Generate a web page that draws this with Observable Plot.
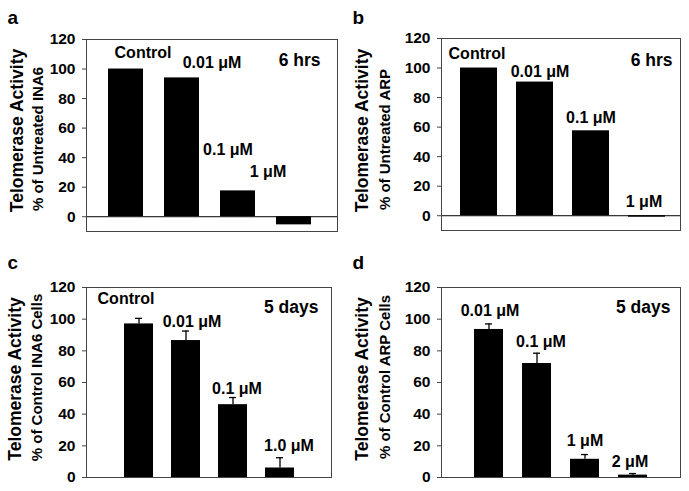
<!DOCTYPE html>
<html><head><meta charset="utf-8">
<script src="https://cdn.jsdelivr.net/npm/d3@7"></script>
<script src="https://cdn.jsdelivr.net/npm/@observablehq/plot@0.6"></script>
<style>
body{margin:0;background:#fff;}
#fig{position:relative;width:689px;height:491px;overflow:hidden;background:#fff;}
.panel{position:absolute;}
</style></head><body><div id="fig"></div>
<script>
// ---- data ----
const catsA = ["Control", "0.01 μM", "0.1 μM", "1 μM"];
const valsA = [100, 94, 17.5, -5.5];

const catsB = ["Control", "0.01 μM", "0.1 μM", "1 μM"];
const valsB = [100, 90.5, 57.5, -1];

const catsC = ["Control", "0.01 μM", "0.1 μM", "1.0 μM"];
const valsC = [97, 86.5, 46, 6];
const errsC = [3.5, 6, 4.5, 6.5];

const catsD = ["0.01 μM", "0.1 μM", "1 μM", "2 μM"];
const valsD = [93.5, 72, 11.5, 1.5];
const errsD = [3.5, 6.5, 3, 1];

const yTicks = [0, 20, 40, 60, 80, 100, 120];
const panelLetters = ["a", "b", "c", "d"];
const yTitle1 = "Telomerase Activity";
const yTitles2 = ["% of Untreated INA6", "% of Untreated ARP", "% of Control INA6 Cells", "% of Control ARP Cells"];
const timeLabels = ["6 hrs", "6 hrs", "5 days", "5 days"];

// ---- layout (positions / styles) ----
const FONT = "'Liberation Sans', Arial, Helvetica, sans-serif";
const layouts = [
  {cats: catsA, vals: valsA, errs: null, left: 0, top: 0, width: 345, height: 245,
   mt: 39, mb: 14, ml: 86, mr: 8, yDomain: [-10, 120], pi: 0.383, po: 0.405, align: 0.45, zero: true,
   labelY: [111, 104.5, 45, 30.7], labelDx: [17, 30, -10, -26],
   timeDx: -17, timeDy: 14, t1: [-69, -5], t2: [-48, 3.5]},
  {cats: catsB, vals: valsB, errs: null, left: 345, top: 0, width: 344, height: 245,
   mt: 38, mb: 15, ml: 96, mr: 9, yDomain: [-10, 120], pi: 0.345, po: 0.287, align: 0.55, zero: true,
   labelY: [109.6, 97.7, 66.3, 9.2], labelDx: [-2, 5, 0, -3],
   timeDx: -8, timeDy: 15, t1: [-79, -4], t2: [-56, 5]},
  {cats: catsC, vals: valsC, errs: errsC, left: 0, top: 245, width: 345, height: 246,
   mt: 42, mb: 14, ml: 86, mr: 14, yDomain: [0, 120], pi: 0.386, po: 0.761, align: 0.5, zero: false,
   labelY: [112.8, 98.1, 56, 20.2], labelDx: [-13, 6, 4, 9],
   timeDx: -13, timeDy: 13, t1: [-71, -3.5], t2: [-49, -5]},
  {cats: catsD, vals: valsD, errs: errsD, left: 345, top: 245, width: 344, height: 246,
   mt: 42, mb: 14, ml: 96, mr: 9, yDomain: [0, 120], pi: 0.4, po: 0.675, align: 0.5, zero: false,
   labelY: [105.5, 85.5, 23.4, 9.7], labelDx: [1, 4, 0, -3],
   timeDx: -10, timeDy: 13, t1: [-79, -3.5], t2: [-56, -5.5]}
];

const fig = document.getElementById("fig");

layouts.forEach((L, p) => {
  const data = L.cats.map((c, i) => ({
    cat: c, v: L.vals[i], e: L.errs ? L.errs[i] : 0,
    ly: L.labelY[i], ldx: L.labelDx[i]
  }));
  const marks = [];
  marks.push(Plot.barY(data, {x: "cat", y: "v", fill: "black"}));
  if (L.errs) {
    marks.push(Plot.ruleX(data, {x: "cat", y1: "v", y2: d => d.v + d.e, stroke: "black", strokeWidth: 1.3}));
    marks.push(Plot.tickY(data, {x: "cat", y: d => d.v + d.e, stroke: "black", strokeWidth: 1.3, insetLeft: 11, insetRight: 11}));
  }
  if (L.zero) marks.push(Plot.ruleY([0], {stroke: "black", strokeWidth: 1}));
  marks.push(Plot.axisY({ticks: yTicks, tickSize: 4, tickPadding: 7, label: null, stroke: "#444",
    fontSize: 15.5, fontWeight: "bold", fontFamily: FONT, fill: "black"}));
  marks.push(Plot.frame({stroke: "#444", strokeWidth: 1}));
  // bar labels
  data.forEach(d => {
    marks.push(Plot.text([d], {x: "cat", y: "ly", text: "cat", dx: d.ldx,
      fontSize: 16, fontWeight: "bold", fill: "black", fontFamily: FONT}));
  });
  // time label
  marks.push(Plot.text([timeLabels[p]], {frameAnchor: "top-right", textAnchor: "end",
    dx: L.timeDx, dy: L.timeDy, fontSize: 17.5, fontWeight: "bold", fill: "black", fontFamily: FONT}));
  // panel letter
  marks.push(Plot.text([panelLetters[p]], {frameAnchor: "top-left", textAnchor: "start", lineAnchor: "bottom",
    dx: 7 - L.ml, dy: 23 - L.mt, fontSize: 19, fontWeight: "bold", fill: "black", fontFamily: FONT}));
  // y titles
  marks.push(Plot.text([yTitle1], {frameAnchor: "left", rotate: -90, textAnchor: "middle", lineAnchor: "middle",
    dx: L.t1[0], dy: L.t1[1], fontSize: 17.5, fontWeight: "bold", fill: "black", fontFamily: FONT}));
  marks.push(Plot.text([yTitles2[p]], {frameAnchor: "left", rotate: -90, textAnchor: "middle", lineAnchor: "middle",
    dx: L.t2[0], dy: L.t2[1], fontSize: 15, fontWeight: "bold", fill: "black", fontFamily: FONT}));

  const svg = Plot.plot({
    width: L.width, height: L.height,
    marginLeft: L.ml, marginRight: L.mr, marginTop: L.mt, marginBottom: L.mb,
    style: {fontFamily: FONT, fontSize: "15px", fontWeight: "bold", color: "black", background: "white", overflow: "visible"},
    x: {domain: L.cats, axis: null, paddingInner: L.pi, paddingOuter: L.po, align: L.align},
    y: {domain: L.yDomain, axis: null},
    marks
  });
  const div = document.createElement("div");
  div.className = "panel";
  div.style.left = L.left + "px";
  div.style.top = L.top + "px";
  div.style.width = L.width + "px";
  div.style.height = L.height + "px";
  div.appendChild(svg);
  fig.appendChild(div);
});
</script>
</body></html>
